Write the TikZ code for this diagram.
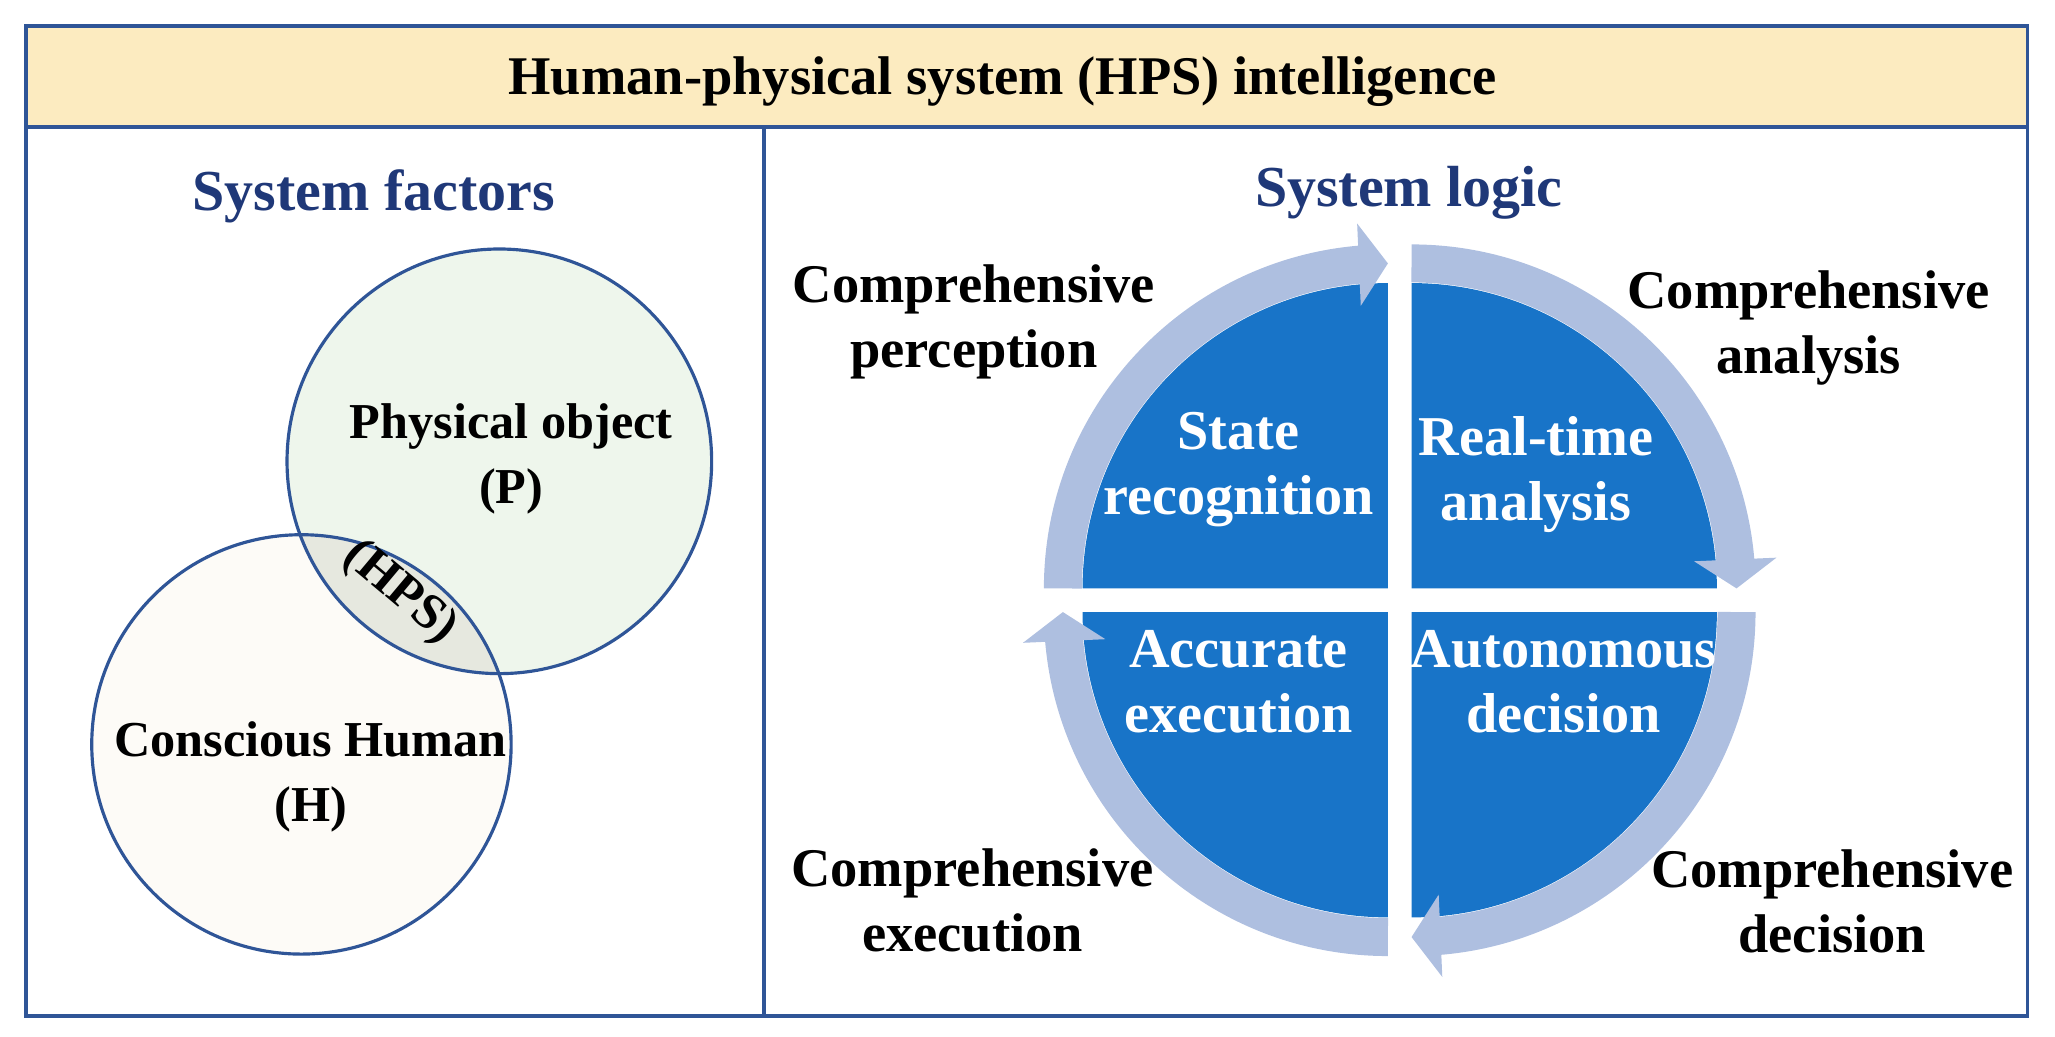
\documentclass[tikz,border=0pt]{standalone}
\usepackage{fontspec}
\setmainfont{Liberation Serif}
\usetikzlibrary{arrows.meta,bending}
\definecolor{frameblue}{RGB}{47,85,151}
\definecolor{titlefill}{RGB}{252,235,192}
\definecolor{headblue}{RGB}{31,56,120}
\definecolor{quadblue}{RGB}{24,116,200}
\definecolor{ringblue}{RGB}{174,191,224}
\definecolor{pfill}{RGB}{238,246,236}
\definecolor{hfill}{RGB}{253,251,247}
\definecolor{ifill}{RGB}{230,232,223}
\begin{document}
\begin{tikzpicture}[x=0.013106cm,y=0.013106cm,
  lbl/.style={font=\fontsize{15.5}{18.5}\selectfont\bfseries,align=center,inner sep=0},
  slbl/.style={lbl,font=\fontsize{14.3}{18.5}\selectfont\bfseries},
  wlbl/.style={lbl,text=white,font=\fontsize{16}{18.5}\selectfont\bfseries},
  head/.style={font=\fontsize{16.5}{20}\selectfont\bfseries,text=headblue,inner sep=0},
  quad/.style={fill=quadblue},
  ring/.style={draw=ringblue,line width=0.38cm,-{Triangle[width=0.81cm,length=0.29cm,flex]}}]
\useasboundingbox (0,0) rectangle (1568,791);
% frame
\fill[titlefill] (20,694) rectangle (1547,771);
\draw[frameblue,line width=1.1pt] (20,16) rectangle (1547,771);
\draw[frameblue,line width=1.1pt] (20,694) -- (1547,694);
\draw[frameblue,line width=1.1pt] (583,16) -- (583,694);
\node[lbl] (title) at (765,729) {Human-physical system (HPS) intelligence};
\node[head] (sf) at (285,641) {System factors};
\node[head] (sl) at (1075,644) {System logic};
% Venn
\fill[pfill] (381,439) circle[radius=162];
\fill[hfill] (230,223) circle[radius=160];
\begin{scope}
\clip (381,439) circle[radius=162];
\fill[ifill] (230,223) circle[radius=160];
\end{scope}
\draw[frameblue,line width=0.9pt] (381,439) circle[radius=162];
\draw[frameblue,line width=0.9pt] (230,223) circle[radius=160];
\node[slbl] (P) at (390,441) {Physical object\\(P)};
\node[slbl] (H) at (237,198) {Conscious Human\\(H)};
\node[slbl,rotate=-40] (HPS) at (305,339) {(HPS)};
% quadrants
\fill[quad] (1059,342) -- ++(-233,0) arc[start angle=180,end angle=90,radius=233] -- cycle;
\fill[quad] (1077,342) -- ++(0,233) arc[start angle=90,end angle=0,radius=233] -- cycle;
\fill[quad] (1077,324) -- ++(233,0) arc[start angle=0,end angle=-90,radius=233] -- cycle;
\fill[quad] (1059,324) -- ++(0,-233) arc[start angle=-90,end angle=-180,radius=233] -- cycle;
% ring arrows
\draw[ring] (1059,342) ++(180:248) arc[start angle=180,end angle=90,radius=248];
\draw[ring] (1077,342) ++(90:248) arc[start angle=90,end angle=0,radius=248];
\draw[ring] (1077,324) ++(0:248) arc[start angle=0,end angle=-90,radius=248];
\draw[ring] (1059,324) ++(-90:248) arc[start angle=-90,end angle=-180,radius=248];
% inner labels
\node[wlbl] (sr) at (945,433) {State\\recognition};
\node[wlbl] (rt) at (1172,429) {Real-time\\analysis};
\node[wlbl] (ae) at (945,271) {Accurate\\execution};
\node[wlbl] (ad) at (1193,271) {Autonomous\\decision};
% outer labels
\node[lbl] (cp) at (743,545) {Comprehensive\\perception};
\node[lbl] (ca) at (1380,541) {Comprehensive\\analysis};
\node[lbl] (ce) at (742,104) {Comprehensive\\execution};
\node[lbl] (cd) at (1398,103) {Comprehensive\\decision};
\end{tikzpicture}
\end{document}
